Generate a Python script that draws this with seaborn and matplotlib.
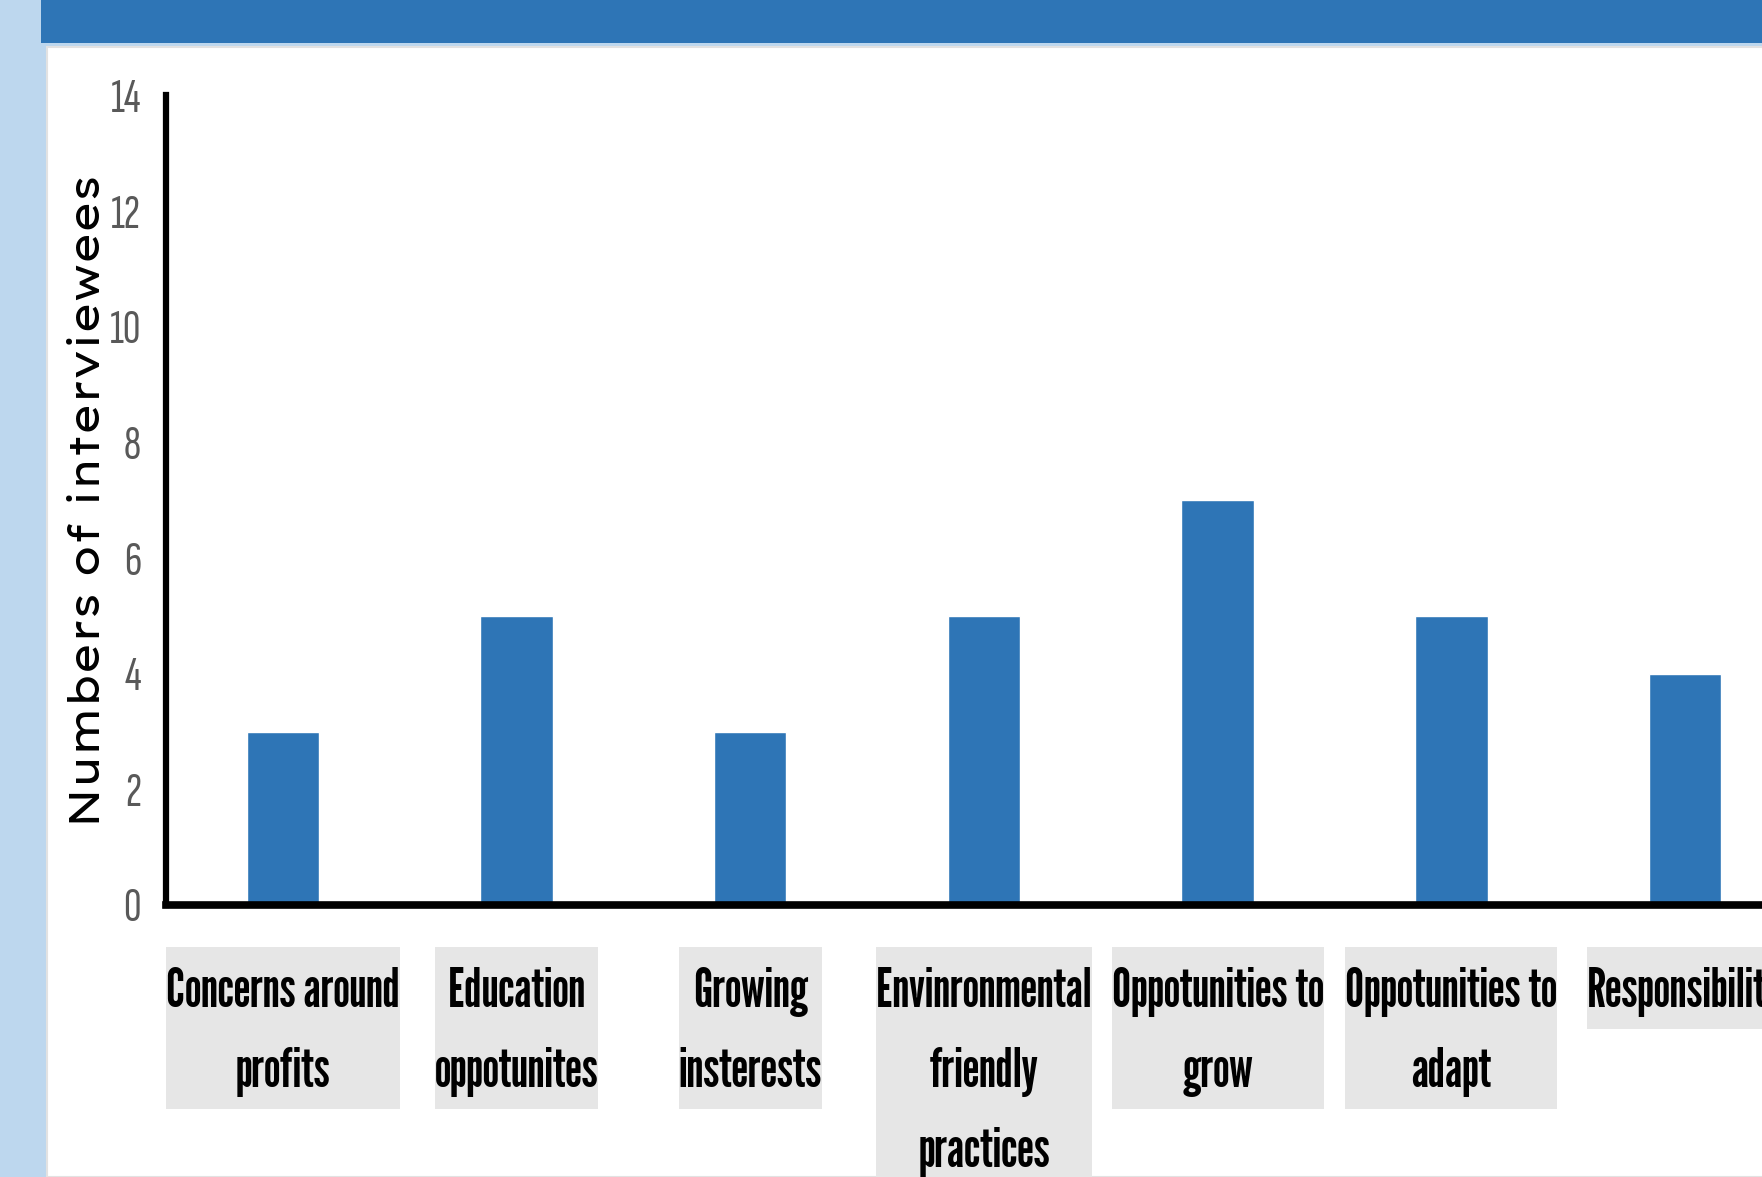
import matplotlib
matplotlib.use("Agg")
import matplotlib.pyplot as plt
from matplotlib.patches import Rectangle
from matplotlib.path import Path
from matplotlib.transforms import blended_transform_factory
import seaborn as sns
import pandas as pd

# Survey counts per theme
categories = [
    "Concerns around\nprofits",
    "Education\noppotunites",
    "Growing\ninsterests",
    "Envinronmental\nfriendly\npractices",
    "Oppotunities to\ngrow",
    "Oppotunities to\nadapt",
    "Responsibility",
]
counts = [3, 5, 3, 5, 7, 5, 4]
y_ticks = [0, 2, 4, 6, 8, 10, 12, 14]

BAR_BLUE = "#2E75B6"
PALE_BLUE = "#BDD7EE"
LABEL_GREY = "#E6E6E6"

sns.set_theme(style="white")
plt.rcParams["font.family"] = ["League Gothic", "DejaVu Sans"]

fig = plt.figure(figsize=(17.62, 11.77), dpi=100)
fig.patch.set_facecolor(PALE_BLUE)

# slide frame: white content panel and the blue title band
fig.patches.append(Rectangle((0.0267, 0.0), 1.0, 0.9601, transform=fig.transFigure,
                             facecolor="white", edgecolor="#e2e2e2", linewidth=1.5,
                             zorder=-2))
fig.patches.append(Rectangle((0.0233, 0.9635), 1.0, 0.04, transform=fig.transFigure,
                             facecolor=BAR_BLUE, edgecolor="none", zorder=-2))

ax = fig.add_axes([0.0942, 0.2311, 0.9285, 0.6878])
ax.set_facecolor("none")

df = pd.DataFrame({"theme": categories, "count": counts})
sns.barplot(data=df, x="theme", y="count", color=BAR_BLUE, saturation=1,
            width=0.31, ax=ax)

ax.set_xlim(-0.5, len(categories) - 0.5)
ax.set_ylim(0, 14)
ax.set_yticks(y_ticks)
ax.set_yticklabels([str(t) for t in y_ticks], fontsize=35, color="#595959",
                   family=["Sofia Sans Extra Condensed", "DejaVu Sans"])
ax.tick_params(axis="y", length=0, pad=18)
ax.tick_params(axis="x", length=0)
ax.set_xticklabels([])
ax.set_xlabel("")

ax.set_ylabel("Numbers of interviewees", fontsize=31, color="black",
              family=["Lexend Exa", "DejaVu Sans"])
ax.yaxis.set_label_coords(-0.035, 0.5)

for side in ("top", "right"):
    ax.spines[side].set_visible(False)
ax.spines["left"].set_linewidth(4.5)
ax.spines["bottom"].set_linewidth(5.5)
ax.spines["left"].set_color("black")
ax.spines["bottom"].set_color("black")


def label_box(x0, y0, width, height, mutation_size):
    """Grey label box: flush with the text sideways, padded above and below."""
    top = 0.37 * mutation_size
    bottom = 0.22 * mutation_size
    x1 = x0 + width
    ya = y0 - bottom
    yb = y0 + height + top
    return Path([(x0, ya), (x1, ya), (x1, yb), (x0, yb), (x0, ya)], closed=True)


trans = blended_transform_factory(ax.transData, ax.transAxes)
for i, name in enumerate(categories):
    ax.text(i, -0.0766, name, transform=trans, ha="center", va="top",
            multialignment="center", fontsize=38.5, color="black",
            linespacing=1.75, clip_on=False,
            bbox=dict(boxstyle=label_box, facecolor=LABEL_GREY, edgecolor="none"))

fig.savefig("out.png", dpi=100, facecolor=fig.get_facecolor())
